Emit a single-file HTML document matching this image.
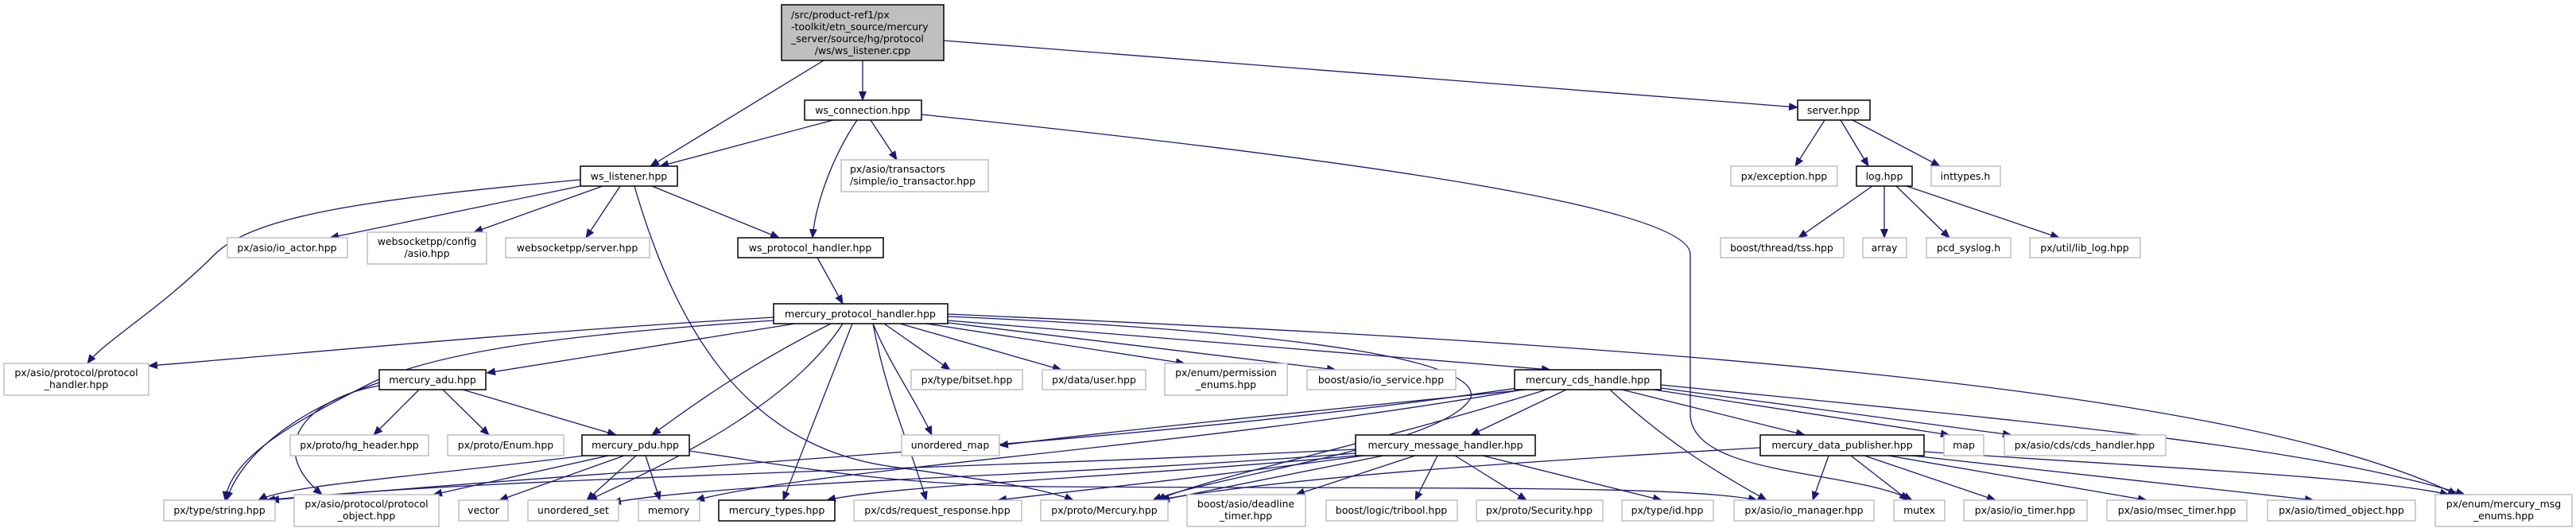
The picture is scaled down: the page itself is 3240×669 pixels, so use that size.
<!DOCTYPE html>
<html><head><meta charset="utf-8"><style>
html,body{margin:0;padding:0;background:#fff;}
svg{display:block;}
text{font-family:"DejaVu Sans","Liberation Sans",sans-serif;font-size:12.5px;fill:#000;}
.b{fill:#fff;stroke:#000;stroke-width:1.5;}
.g{fill:#fff;stroke:#bfbfbf;stroke-width:1.5;}
.e{fill:none;stroke:#191970;stroke-width:1.3;marker-end:url(#a);}
</style></head><body>
<svg width="3240" height="669" viewBox="0 0 3240 669" xmlns="http://www.w3.org/2000/svg">
<defs><marker id="a" markerWidth="12" markerHeight="10" refX="11" refY="5" orient="auto" markerUnits="userSpaceOnUse"><path d="M0,0 L12,5 L0,10 z" fill="#191970"/></marker></defs>
<g>
<path class="e" d="M1036 76 L818 209"/>
<path class="e" d="M1085 76 L1085 126"/>
<path class="e" d="M1187 51 L2261 135"/>
<path class="e" d="M1048 151 L830 209"/>
<path class="e" d="M1078 151 C1045 200 1025 260 1022 299"/>
<path class="e" d="M1095 151 L1128 201"/>
<path class="e" d="M1159 144 C1700 200 2126 260 2126 320 L2126 520 C2126 600 2330 590 2405 629"/>
<path class="e" d="M730 226 C470 250 320 270 270 320 C200 390 130 430 110 457"/>
<path class="e" d="M730 234 L415 299"/>
<path class="e" d="M758 234 L596 292"/>
<path class="e" d="M780 234 L737 299"/>
<path class="e" d="M820 234 L980 299"/>
<path class="e" d="M798 234 C860 450 960 560 1110 585 C1210 600 1300 610 1350 629"/>
<path class="e" d="M1028 324 L1060 382"/>
<path class="e" d="M2295 151 L2258 209"/>
<path class="e" d="M2315 151 L2350 209"/>
<path class="e" d="M2330 151 L2440 209"/>
<path class="e" d="M2355 234 L2262 299"/>
<path class="e" d="M2370 234 L2370 299"/>
<path class="e" d="M2385 234 L2452 299"/>
<path class="e" d="M2398 234 L2590 299"/>
<path class="e" d="M973 399 C620 420 320 450 187 460"/>
<path class="e" d="M973 403 C720 420 560 440 470 480 C350 540 290 580 283 629"/>
<path class="e" d="M1000 407 L612 469"/>
<path class="e" d="M1045 407 C940 460 870 510 820 547"/>
<path class="e" d="M1060 407 C1000 500 870 570 740 629"/>
<path class="e" d="M1098 407 C1120 460 1150 500 1172 547"/>
<path class="e" d="M1072 407 L985 629"/>
<path class="e" d="M1098 407 C1115 500 1145 560 1165 629"/>
<path class="e" d="M1112 407 L1195 465"/>
<path class="e" d="M1132 407 L1335 465"/>
<path class="e" d="M1165 407 L1490 457"/>
<path class="e" d="M1185 405 L1680 465"/>
<path class="e" d="M1192 403 L1950 465"/>
<path class="e" d="M1192 395 C2000 430 2800 480 3090 622"/>
<path class="e" d="M1192 398 C1700 420 1860 460 1850 500 C1820 560 1520 600 1450 629"/>
<path class="e" d="M527 490 L470 547"/>
<path class="e" d="M557 490 L615 547"/>
<path class="e" d="M582 490 L775 547"/>
<path class="e" d="M477 481 C360 520 300 580 285 629"/>
<path class="e" d="M477 485 C390 500 330 560 405 622"/>
<path class="e" d="M735 573 C520 600 360 610 325 629"/>
<path class="e" d="M765 573 L545 622"/>
<path class="e" d="M785 573 L628 629"/>
<path class="e" d="M800 573 L738 629"/>
<path class="e" d="M812 573 L830 629"/>
<path class="e" d="M867 567 C1020 590 1120 610 1320 612 C1820 615 2120 610 2210 629"/>
<path class="e" d="M1920 490 C1620 520 1420 540 1257 560"/>
<path class="e" d="M1970 490 L1850 547"/>
<path class="e" d="M2040 490 L2270 547"/>
<path class="e" d="M2080 490 L2452 547"/>
<path class="e" d="M2089 488 L2530 547"/>
<path class="e" d="M2089 484 C2550 530 2900 560 3100 622"/>
<path class="e" d="M2025 490 C2100 560 2170 600 2222 629"/>
<path class="e" d="M1945 490 C1720 560 1520 600 1455 629"/>
<path class="e" d="M1915 487 C1420 560 900 580 340 629"/>
<path class="e" d="M1915 490 C1520 560 1020 590 875 629"/>
<path class="e" d="M1705 565 C1220 590 620 600 335 629"/>
<path class="e" d="M1705 573 C1420 600 1120 610 1040 629"/>
<path class="e" d="M1715 573 C1520 600 1370 615 1255 629"/>
<path class="e" d="M1705 570 C1320 600 920 605 770 632"/>
<path class="e" d="M1740 573 L1460 629"/>
<path class="e" d="M1780 573 L1630 622"/>
<path class="e" d="M1808 573 L1780 629"/>
<path class="e" d="M1830 573 L1920 629"/>
<path class="e" d="M1865 573 L2090 629"/>
<path class="e" d="M2214 563 C1920 580 1620 600 1455 629"/>
<path class="e" d="M2300 573 L2280 629"/>
<path class="e" d="M2328 573 L2400 629"/>
<path class="e" d="M2345 573 L2510 629"/>
<path class="e" d="M2375 573 L2700 629"/>
<path class="e" d="M2405 573 L2910 629"/>
<path class="e" d="M2420 568 C2750 590 2980 600 3080 622"/>
</g>
<g>
<rect x="983" y="6" width="204" height="70" fill="#bfbfbf" stroke="#000" stroke-width="1.5"/>
<text x="995" y="23">/src/product-ref1/px</text>
<text x="995" y="38">-toolkit/etn_source/mercury</text>
<text x="995" y="53">_server/source/hg/protocol</text>
<text x="1085" y="68" text-anchor="middle">/ws/ws_listener.cpp</text>

<rect class="b" x="1012" y="126" width="147" height="25"/><text x="1085" y="143" text-anchor="middle">ws_connection.hpp</text>
<rect class="b" x="730" y="209" width="122" height="25"/><text x="791" y="226" text-anchor="middle">ws_listener.hpp</text>
<rect class="g" x="1058" y="201" width="185" height="40"/><text x="1069" y="217">px/asio/transactors</text><text x="1069" y="232">/simple/io_transactor.hpp</text>
<rect class="g" x="286" y="299" width="151" height="25"/><text x="361" y="316" text-anchor="middle">px/asio/io_actor.hpp</text>
<rect class="g" x="462" y="292" width="150" height="40"/><text x="537" y="308" text-anchor="middle">websocketpp/config</text><text x="537" y="323" text-anchor="middle">/asio.hpp</text>
<rect class="g" x="636" y="299" width="181" height="25"/><text x="726" y="316" text-anchor="middle">websocketpp/server.hpp</text>
<rect class="b" x="928" y="299" width="183" height="25"/><text x="1019" y="316" text-anchor="middle">ws_protocol_handler.hpp</text>
<rect class="b" x="2261" y="126" width="91" height="25"/><text x="2306" y="143" text-anchor="middle">server.hpp</text>
<rect class="g" x="2177" y="209" width="134" height="25"/><text x="2244" y="226" text-anchor="middle">px/exception.hpp</text>
<rect class="b" x="2335" y="209" width="70" height="25"/><text x="2370" y="226" text-anchor="middle">log.hpp</text>
<rect class="g" x="2429" y="209" width="87" height="25"/><text x="2472" y="226" text-anchor="middle">inttypes.h</text>
<rect class="g" x="2164" y="299" width="155" height="25"/><text x="2241" y="316" text-anchor="middle">boost/thread/tss.hpp</text>
<rect class="g" x="2343" y="299" width="55" height="25"/><text x="2370" y="316" text-anchor="middle">array</text>
<rect class="g" x="2423" y="299" width="106" height="25"/><text x="2476" y="316" text-anchor="middle">pcd_syslog.h</text>
<rect class="g" x="2553" y="299" width="139" height="25"/><text x="2622" y="316" text-anchor="middle">px/util/lib_log.hpp</text>

<rect class="b" x="973" y="382" width="219" height="25"/><text x="1082" y="399" text-anchor="middle">mercury_protocol_handler.hpp</text>

<rect class="g" x="5" y="457" width="182" height="40"/><text x="96" y="473" text-anchor="middle">px/asio/protocol/protocol</text><text x="96" y="488" text-anchor="middle">_handler.hpp</text>
<rect class="b" x="477" y="465" width="134" height="25"/><text x="544" y="482" text-anchor="middle">mercury_adu.hpp</text>
<rect class="g" x="1146" y="465" width="140" height="25"/><text x="1216" y="482" text-anchor="middle">px/type/bitset.hpp</text>
<rect class="g" x="1311" y="465" width="130" height="25"/><text x="1376" y="482" text-anchor="middle">px/data/user.hpp</text>
<rect class="g" x="1465" y="457" width="154" height="40"/><text x="1542" y="473" text-anchor="middle">px/enum/permission</text><text x="1542" y="488" text-anchor="middle">_enums.hpp</text>
<rect class="g" x="1644" y="465" width="187" height="25"/><text x="1737" y="482" text-anchor="middle">boost/asio/io_service.hpp</text>
<rect class="b" x="1905" y="465" width="184" height="25"/><text x="1997" y="482" text-anchor="middle">mercury_cds_handle.hpp</text>

<rect class="g" x="365" y="547" width="174" height="26"/><text x="452" y="564" text-anchor="middle">px/proto/hg_header.hpp</text>
<rect class="g" x="563" y="547" width="146" height="26"/><text x="636" y="564" text-anchor="middle">px/proto/Enum.hpp</text>
<rect class="b" x="732" y="547" width="135" height="26"/><text x="799" y="564" text-anchor="middle">mercury_pdu.hpp</text>
<rect class="g" x="1134" y="547" width="123" height="26"/><text x="1195" y="564" text-anchor="middle">unordered_map</text>
<rect class="b" x="1705" y="547" width="226" height="26"/><text x="1818" y="564" text-anchor="middle">mercury_message_handler.hpp</text>
<rect class="b" x="2214" y="547" width="206" height="26"/><text x="2317" y="564" text-anchor="middle">mercury_data_publisher.hpp</text>
<rect class="g" x="2445" y="547" width="50" height="26"/><text x="2470" y="564" text-anchor="middle">map</text>
<rect class="g" x="2521" y="547" width="203" height="26"/><text x="2622" y="564" text-anchor="middle">px/asio/cds/cds_handler.hpp</text>

<rect class="g" x="206" y="629" width="140" height="26"/><text x="276" y="646" text-anchor="middle">px/type/string.hpp</text>
<rect class="g" x="370" y="622" width="182" height="40"/><text x="461" y="638" text-anchor="middle">px/asio/protocol/protocol</text><text x="461" y="653" text-anchor="middle">_object.hpp</text>
<rect class="g" x="577" y="629" width="62" height="26"/><text x="608" y="646" text-anchor="middle">vector</text>
<rect class="g" x="664" y="629" width="114" height="26"/><text x="721" y="646" text-anchor="middle">unordered_set</text>
<rect class="g" x="803" y="629" width="77" height="26"/><text x="841" y="646" text-anchor="middle">memory</text>
<rect class="b" x="904" y="629" width="146" height="26"/><text x="977" y="646" text-anchor="middle">mercury_types.hpp</text>
<rect class="g" x="1074" y="629" width="211" height="26"/><text x="1179" y="646" text-anchor="middle">px/cds/request_response.hpp</text>
<rect class="g" x="1309" y="629" width="160" height="26"/><text x="1389" y="646" text-anchor="middle">px/proto/Mercury.hpp</text>
<rect class="g" x="1493" y="622" width="149" height="40"/><text x="1567" y="638" text-anchor="middle">boost/asio/deadline</text><text x="1567" y="653" text-anchor="middle">_timer.hpp</text>
<rect class="g" x="1668" y="629" width="165" height="26"/><text x="1750" y="646" text-anchor="middle">boost/logic/tribool.hpp</text>
<rect class="g" x="1857" y="629" width="159" height="26"/><text x="1936" y="646" text-anchor="middle">px/proto/Security.hpp</text>
<rect class="g" x="2040" y="629" width="115" height="26"/><text x="2097" y="646" text-anchor="middle">px/type/id.hpp</text>
<rect class="g" x="2181" y="629" width="176" height="26"/><text x="2269" y="646" text-anchor="middle">px/asio/io_manager.hpp</text>
<rect class="g" x="2382" y="629" width="64" height="26"/><text x="2414" y="646" text-anchor="middle">mutex</text>
<rect class="g" x="2470" y="629" width="155" height="26"/><text x="2547" y="646" text-anchor="middle">px/asio/io_timer.hpp</text>
<rect class="g" x="2650" y="629" width="176" height="26"/><text x="2738" y="646" text-anchor="middle">px/asio/msec_timer.hpp</text>
<rect class="g" x="2852" y="629" width="186" height="26"/><text x="2945" y="646" text-anchor="middle">px/asio/timed_object.hpp</text>
<rect class="g" x="3063" y="622" width="172" height="40"/><text x="3149" y="638" text-anchor="middle">px/enum/mercury_msg</text><text x="3149" y="653" text-anchor="middle">_enums.hpp</text>
</g>
</svg>
</body></html>
